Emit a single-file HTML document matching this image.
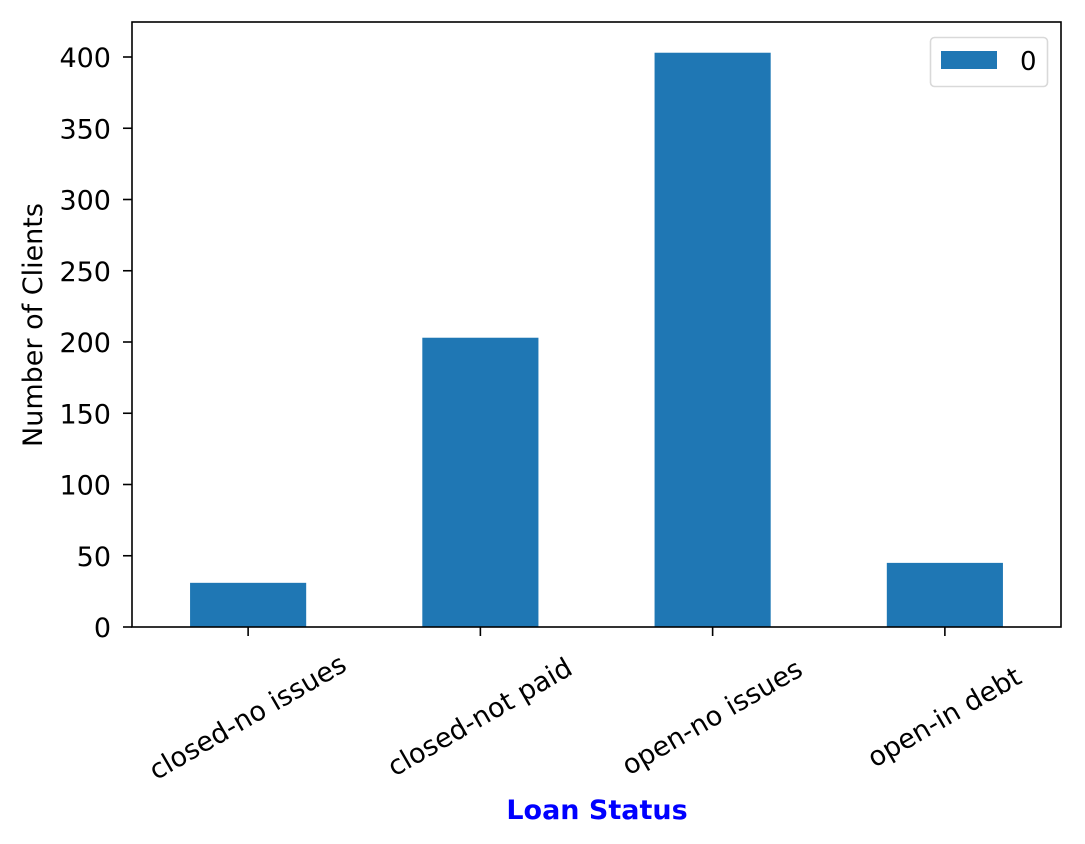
<!DOCTYPE html>
<html><head><meta charset="utf-8"><style>
html,body{margin:0;padding:0;background:#fff;}
svg{display:block;font-family:"DejaVu Sans","Liberation Sans",sans-serif;}
</style></head><body>
<svg id="chart" width="1085" height="844" viewBox="0 0 1085 844" xmlns="http://www.w3.org/2000/svg">
<g id="bars"></g>
<g id="yticks"></g>
<g id="xticks"></g>
<rect x="132" y="22" width="929" height="605" fill="none" stroke="#000" stroke-width="1.6"/>
<g>
<rect x="930.5" y="37.5" width="117" height="49" rx="4" fill="#fff" fill-opacity="0.8" stroke="#d9d9d9" stroke-width="1.6"/>
<rect x="941" y="51" width="56" height="18" fill="#1f77b4"/>
<text x="1020" y="70" font-size="26">0</text>
</g>
<text transform="translate(42,325) rotate(-90)" text-anchor="middle" font-size="27">Number of Clients</text>
<text x="597" y="819" text-anchor="middle" font-size="27" font-weight="bold" fill="#0000ff">Loan Status</text>
</svg>
<script>
const categories = ["closed-no issues","closed-not paid","open-no issues","open-in debt"];
const values = [31, 203, 403, 45];
const yTicks = [0,50,100,150,200,250,300,350,400];
const NS="http://www.w3.org/2000/svg";
const L=132,R=1061,B=627;
const x=i=>L+(i+0.5)*(R-L)/4;
const y=v=>B-v*(570/400);
const bw=(R-L)/4*0.5;
const bars=document.getElementById('bars'),yt=document.getElementById('yticks'),xt=document.getElementById('xticks');
function mk(t,a){const e=document.createElementNS(NS,t);for(const k in a)e.setAttribute(k,a[k]);return e;}
values.forEach((v,i)=>{
  const r=mk('rect',{x:x(i)-bw/2,y:y(v),width:bw,height:B-y(v),fill:'#1f77b4'});
  
  
  bars.appendChild(r);
  const tk=mk('line',{x1:x(i),x2:x(i),y1:B,y2:B+9,stroke:'#000','stroke-width':1.6});
  
  
  xt.appendChild(tk);
  const t=mk('text',{transform:`translate(${x(i)+4},${B+98}) rotate(-30)`,'text-anchor':'middle','font-size':27});
  
  
  t.textContent=categories[i];
  xt.appendChild(t);
});
yTicks.forEach(v=>{
  const tk=mk('line',{x1:L-9,x2:L,y1:y(v),y2:y(v),stroke:'#000','stroke-width':1.6});
  
  
  yt.appendChild(tk);
  const t=mk('text',{x:L-21,y:y(v)+10,'text-anchor':'end','font-size':27});
  
  
  t.textContent=v;
  yt.appendChild(t);
});
</script>
</body></html>
